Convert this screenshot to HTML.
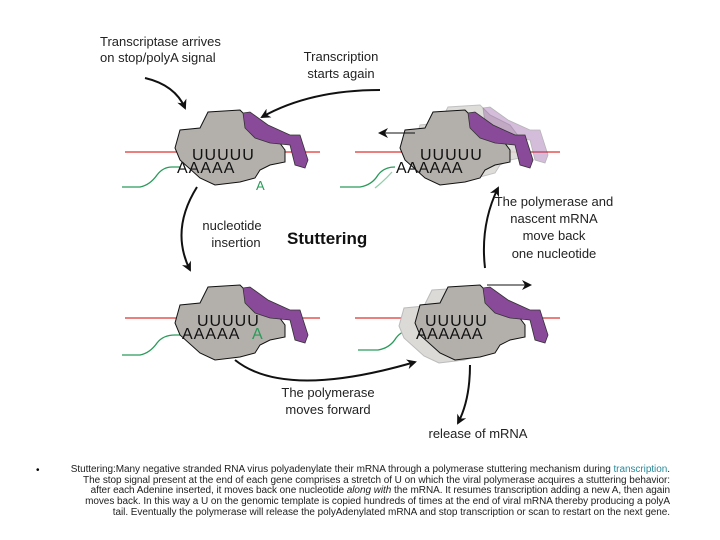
<!DOCTYPE html>
<html><head><meta charset="utf-8"><style>
body{margin:0;background:#fff;width:720px;height:540px;overflow:hidden;font-family:"Liberation Sans",sans-serif}
.cap{position:absolute;left:40px;top:465px;width:630px;font-size:10px;line-height:10.7px;text-align:right;color:#222;letter-spacing:-0.05px}
</style></head><body>
<svg width="720" height="540" style="position:absolute;left:0;top:0" font-family="Liberation Sans, sans-serif">
<defs>
<marker id="ah" markerWidth="10" markerHeight="10" refX="8" refY="5" orient="auto" markerUnits="userSpaceOnUse"><path d="M0,0 L10,5 L0,10 L3,5z" fill="#111"/></marker>
<g id="blob"><path d="M175,148 L180,130 L200,128 L208,112 L240,110 L250,120 L270,130 L285,150 L285,162 L270,165 L260,170 L255,178 L240,182 L215,185 L200,178 L180,160Z" fill="#b3b0ab" stroke="#111" stroke-width="1"/></g>
<g id="purp"><path d="M243,113 L250,112 L268,125 L290,135 L300,135 L308,160 L305,168 L295,165 L290,145 L270,143 L255,138 L245,128Z" fill="#8a4a9a" stroke="#333" stroke-width="0.8"/></g>
<g id="ghost"><path d="M175,148 L180,130 L200,128 L208,112 L240,110 L250,120 L270,130 L285,150 L285,162 L270,165 L260,170 L255,178 L240,182 L215,185 L200,178 L180,160Z" fill="#dcdad7" stroke="#bbb"/></g>
</defs>
<!-- top left -->
<line x1="125" y1="152" x2="320" y2="152" stroke="#e03030" stroke-width="1.3"/>
<path d="M122,187 L140,187 Q150,185 157,175 Q163,167 172,167 L180,167" fill="none" stroke="#2a9a5a" stroke-width="1.3"/>
<use href="#blob"/><use href="#purp"/>
<text x="192" y="160" font-size="16" fill="#111" letter-spacing="1">UUUUU</text>
<text x="177" y="173" font-size="16" fill="#111" letter-spacing="1">AAAAA</text>
<text x="256" y="190" font-size="13" fill="#2a9a5a">A</text>
<!-- top right -->
<line x1="355" y1="152" x2="560" y2="152" stroke="#e03030" stroke-width="1.3"/>
<path d="M340,187 L360,187 Q372,185 378,175 Q384,167 395,167" fill="none" stroke="#2a9a5a" stroke-width="1.3"/>
<path d="M375,188 Q385,180 392,172" fill="none" stroke="#8fd0a8" stroke-width="1.3"/>
<g transform="translate(240,-5)" opacity="0.9"><use href="#ghost"/><use href="#purp" opacity="0.4"/></g>
<g transform="translate(225,0)"><use href="#blob"/><use href="#purp"/></g>
<text x="420" y="160" font-size="16" fill="#111" letter-spacing="1">UUUUU</text>
<text x="396" y="173" font-size="16" fill="#111" letter-spacing="0.5">AAAAAA</text>
<line x1="415" y1="133" x2="380" y2="133" stroke="#111" marker-end="url(#ah)"/>
<!-- bottom left -->
<line x1="125" y1="318" x2="320" y2="318" stroke="#e03030" stroke-width="1.3"/>
<path d="M122,355 L140,355 Q150,353 157,343 Q163,335 175,335 L183,335" fill="none" stroke="#2a9a5a" stroke-width="1.3"/>
<g transform="translate(0,175)"><use href="#blob"/><use href="#purp"/></g>
<text x="197" y="326" font-size="16" fill="#111" letter-spacing="1">UUUUU</text>
<text x="182" y="339" font-size="16" fill="#111" letter-spacing="1">AAAAA</text>
<text x="252" y="339" font-size="16" fill="#2a9a5a">A</text>
<!-- bottom right -->
<line x1="355" y1="318" x2="560" y2="318" stroke="#e03030" stroke-width="1.3"/>
<path d="M358,350 L378,350 Q390,348 396,338 Q402,330 412,330" fill="none" stroke="#2a9a5a" stroke-width="1.3"/>
<g transform="translate(224,178)"><use href="#ghost"/></g>
<g transform="translate(240,175)"><use href="#blob"/><use href="#purp"/></g>
<text x="425" y="326" font-size="16" fill="#111" letter-spacing="1">UUUUU</text>
<text x="416" y="339" font-size="16" fill="#111" letter-spacing="0.5">AAAAAA</text>
<line x1="487" y1="285" x2="530" y2="285" stroke="#111" marker-end="url(#ah)"/>
<!-- arrows -->
<path d="M145,78 Q175,85 185,108" fill="none" stroke="#111" stroke-width="2" marker-end="url(#ah)"/>
<path d="M380,90 Q310,90 262,117" fill="none" stroke="#111" stroke-width="2" marker-end="url(#ah)"/>
<path d="M197,187 Q170,230 190,270" fill="none" stroke="#111" stroke-width="2" marker-end="url(#ah)"/>
<path d="M485,268 Q480,225 498,188" fill="none" stroke="#111" stroke-width="2" marker-end="url(#ah)"/>
<path d="M235,360 Q285,400 415,362" fill="none" stroke="#111" stroke-width="2" marker-end="url(#ah)"/>
<path d="M470,365 Q470,400 458,423" fill="none" stroke="#111" stroke-width="2" marker-end="url(#ah)"/>
<!-- labels -->
<g font-size="13" fill="#222">
<text x="100" y="46">Transcriptase arrives</text>
<text x="100" y="62">on stop/polyA signal</text>
<text x="341" y="61" text-anchor="middle">Transcription</text>
<text x="341" y="78" text-anchor="middle">starts again</text>
<text x="232" y="230" text-anchor="middle">nucleotide</text>
<text x="236" y="247" text-anchor="middle">insertion</text>
<text x="554" y="206" text-anchor="middle">The polymerase and</text>
<text x="554" y="223" text-anchor="middle">nascent mRNA</text>
<text x="554" y="240" text-anchor="middle">move back</text>
<text x="554" y="258" text-anchor="middle">one nucleotide</text>
<text x="328" y="397" text-anchor="middle">The polymerase</text>
<text x="328" y="414" text-anchor="middle">moves forward</text>
<text x="478" y="438" text-anchor="middle">release of mRNA</text>
</g>
<text x="287" y="244" font-size="17" font-weight="bold" fill="#111">Stuttering</text>
</svg>
<div style="position:absolute;left:36px;top:465px;font-size:10px">•</div>
<div class="cap">Stuttering:Many negative stranded RNA virus polyadenylate their mRNA through a polymerase stuttering mechanism during <span style="color:#2a8a9a">transcription</span>.<br>The stop signal present at the end of each gene comprises a stretch of U on which the viral polymerase acquires a stuttering behavior:<br>after each Adenine inserted, it moves back one nucleotide <i>along with</i> the mRNA. It resumes transcription adding a new A, then again<br>moves back. In this way a U on the genomic template is copied hundreds of times at the end of viral mRNA thereby producing a polyA<br>tail. Eventually the polymerase will release the polyAdenylated mRNA and stop transcription or scan to restart on the next gene.</div>
</body></html>
